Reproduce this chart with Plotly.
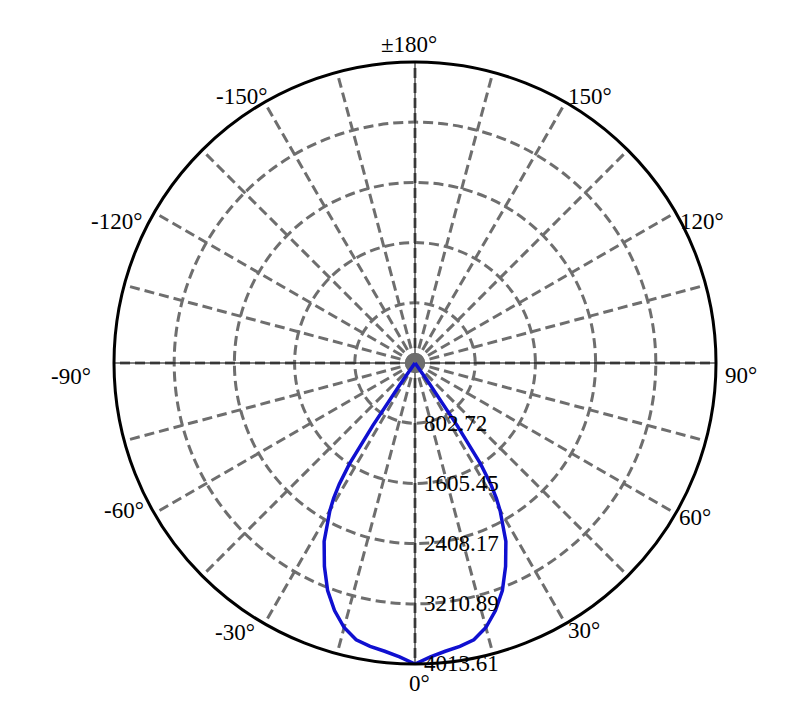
import plotly.graph_objects as go

# luminous intensity distribution (cd), symmetric beam
half_angles = [0, 3, 6, 9, 12, 15, 18, 21, 24, 27, 30, 31, 32, 33, 34, 35, 36]
half_cd = [4013.61, 3925, 3865, 3825, 3773, 3652, 3472, 3251, 2970, 2669, 2268,
           2107, 1906, 1605, 1003, 321, 0]

angles = [-a for a in half_angles[:0:-1]] + half_angles
intensity = half_cd[:0:-1] + half_cd

r_ticks = [802.72, 1605.45, 2408.17, 3210.89, 4013.61]
theta_ticks = list(range(0, 360, 15))
theta_labels = ['0°', '30°', '60°', '90°', '120°', '150°',
                '±180°', '-150°', '-120°', '-90°', '-60°', '-30°']

# where the angle labels sit on the page (pixels, label centre)
label_pos = [(419, 683), (584, 630), (695, 517), (741, 375), (702, 221), (590, 96),
             (409, 45), (241, 96), (116, 222), (71, 376), (124, 510), (235, 632)]

R = r_ticks[-1]
grid = '#6e6e6e'
serif = 'Liberation Serif, Times New Roman, serif'
L, T, SIDE = 106, 54, 602


def to_paper(px, py):
    return (px - 8 - L) / SIDE, 1 - (py - 8 - T) / SIDE


fig = go.Figure()

# thin black cross through the centre
fig.add_trace(go.Scatterpolar(r=[R, 0, R], theta=[0, 0, 180], mode='lines',
                              line=dict(color='black', width=1), hoverinfo='skip'))
fig.add_trace(go.Scatterpolar(r=[R, 0, R], theta=[90, 90, 270], mode='lines',
                              line=dict(color='black', width=1), hoverinfo='skip'))

fig.add_trace(go.Scatterpolar(r=[0], theta=[0], mode='markers',
                              marker=dict(color='#6e6e6e', size=20), hoverinfo='skip'))

fig.add_trace(go.Scatterpolar(
    r=intensity,
    theta=angles,
    mode='lines',
    line=dict(color='#1010d0', width=3.5),
))

for txt, (px, py) in zip(theta_labels, label_pos):
    x, y = to_paper(px, py)
    fig.add_annotation(x=x, y=y, xref='paper', yref='paper', text=txt, showarrow=False,
                       xanchor='center', yanchor='middle',
                       font=dict(family=serif, size=23, color='black'))

fig.update_layout(
    width=810, height=726,
    showlegend=False,
    paper_bgcolor='white',
    font=dict(family=serif, size=23, color='black'),
    margin=dict(l=L, r=810 - L - SIDE, t=T, b=726 - T - SIDE),
    polar=dict(
        bgcolor='white',
        angularaxis=dict(
            rotation=-90,
            direction='counterclockwise',
            tickmode='array',
            tickvals=theta_ticks,
            showticklabels=False,
            ticks='',
            showline=True, linecolor='black', linewidth=3,
            gridcolor=grid, gridwidth=3, griddash='10px,5px',
        ),
        radialaxis=dict(
            range=[0, R],
            tickmode='array',
            tickvals=r_ticks,
            ticktext=['%.2f' % v for v in r_ticks],
            tickfont=dict(family=serif, size=23, color='black'),
            angle=-90,
            tickangle=-90,
            side='counterclockwise',
            ticks='outside', ticklen=4, tickcolor='rgba(0,0,0,0)',
            showline=False,
            gridcolor=grid, gridwidth=3, griddash='10px,5px',
        ),
    ),
)

fig.write_html("out.html")
